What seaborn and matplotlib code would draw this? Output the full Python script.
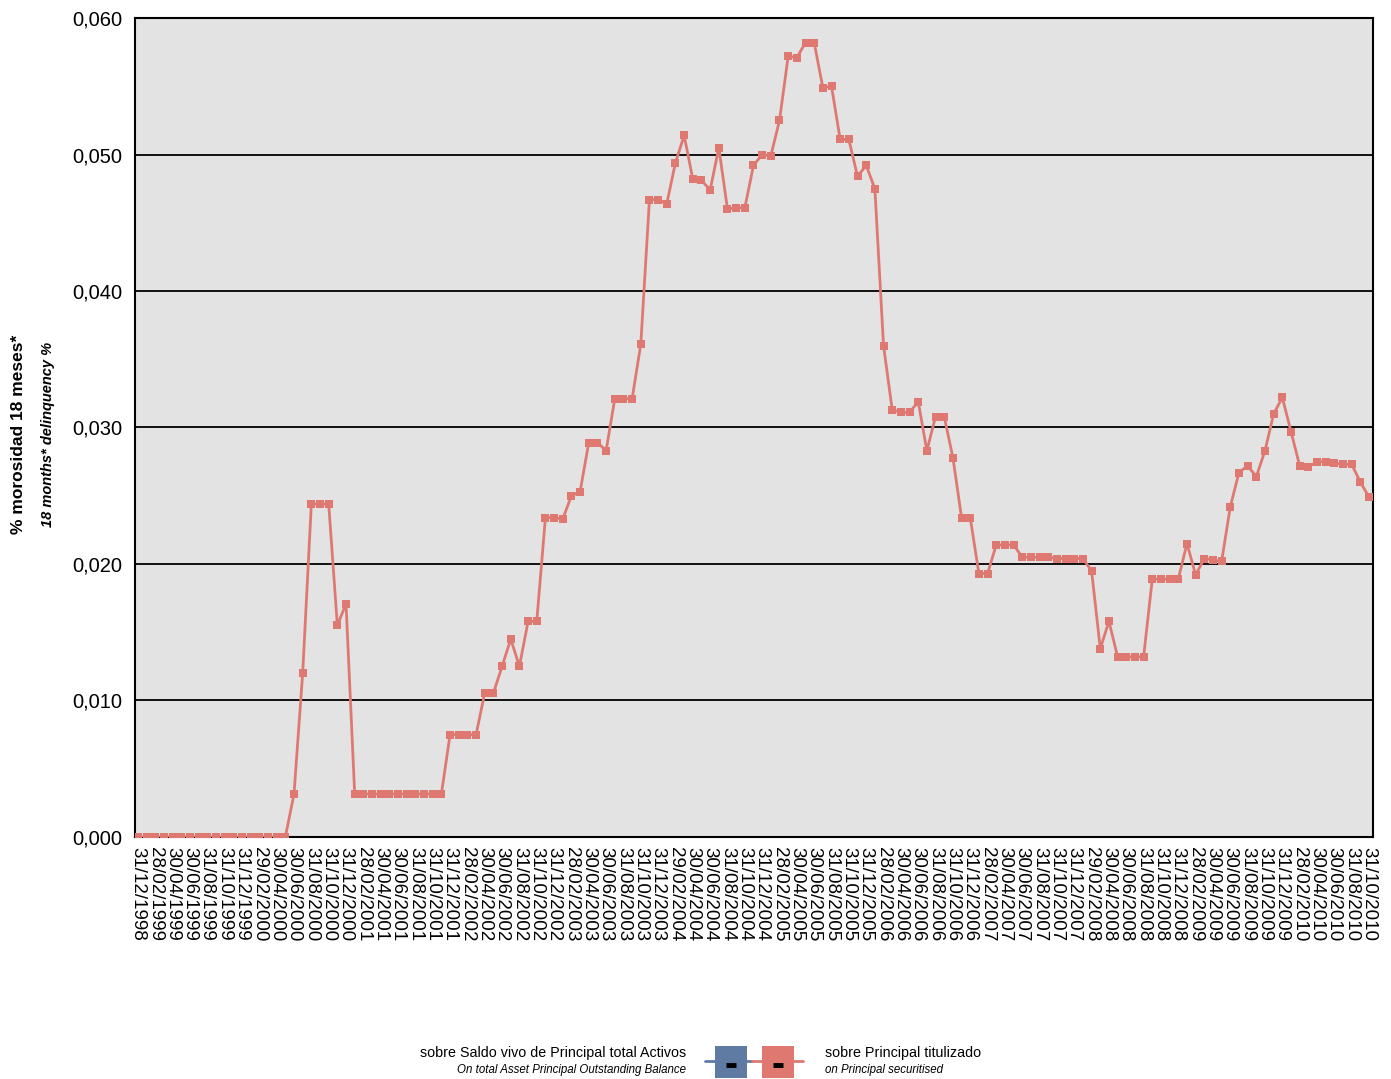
import numpy as np
import pandas as pd
import matplotlib.pyplot as plt
import matplotlib.patches as mpatches
from matplotlib.lines import Line2D
import seaborn as sns

# monthly end dates, 31/12/1998 .. 31/10/2010
dates = pd.date_range('1998-12-31', '2010-10-31', freq='ME')
date_labels = [d.strftime('%d/%m/%Y') for d in dates]

# delinquency on principal securitised
titulizado = [
    0.0, 0.0, 0.0, 0.0, 0.0, 0.0, 0.0, 0.0, 0.0, 0.0,
    0.0, 0.0, 0.0, 0.0, 0.0, 0.0, 0.0, 0.0, 0.00315, 0.0120,
    0.0244, 0.0244, 0.0244, 0.0155, 0.0171, 0.00315, 0.00315, 0.00315, 0.00315, 0.00315,
    0.00315, 0.00315, 0.00315, 0.00315, 0.00315, 0.00315, 0.0075, 0.0075, 0.0075, 0.0075,
    0.01055, 0.01055, 0.0125, 0.0145, 0.0125, 0.0158, 0.0158, 0.0234, 0.0234, 0.0233,
    0.0250, 0.0253, 0.0289, 0.0289, 0.0283, 0.0321, 0.0321, 0.0321, 0.0361, 0.0467,
    0.0467, 0.0464, 0.0494, 0.0514, 0.0482, 0.0481, 0.0474, 0.0505, 0.0460, 0.0461,
    0.0461, 0.0492, 0.0500, 0.0499, 0.0525, 0.0572, 0.0571, 0.0582, 0.0582, 0.0549,
    0.0550, 0.0511, 0.0511, 0.0484, 0.0492, 0.0475, 0.0360, 0.0313, 0.0311, 0.0311,
    0.0319, 0.0283, 0.0308, 0.0308, 0.0278, 0.0234, 0.0234, 0.0193, 0.0193, 0.0214,
    0.0214, 0.0214, 0.0205, 0.0205, 0.0205, 0.0205, 0.0204, 0.0204, 0.0204, 0.0204,
    0.0195, 0.0138, 0.0158, 0.0132, 0.0132, 0.0132, 0.0132, 0.0189, 0.0189, 0.0189,
    0.0189, 0.0215, 0.0192, 0.0204, 0.0203, 0.0202, 0.0242, 0.0267, 0.0272, 0.0264,
    0.0283, 0.0310, 0.0322, 0.0297, 0.0272, 0.0271, 0.0275, 0.0275, 0.0274, 0.0273,
    0.0273, 0.0260, 0.0249,
]

yticks = [0.0, 0.01, 0.02, 0.03, 0.04, 0.05, 0.06]
ytick_labels = ['0,000', '0,010', '0,020', '0,030', '0,040', '0,050', '0,060']

red = '#e07872'
blue = '#5f7aa3'

sns.set_style('white')
plt.rcParams['font.family'] = ['Liberation Sans', 'DejaVu Sans']
plt.rcParams['text.color'] = 'black'
plt.rcParams['xtick.color'] = 'black'
plt.rcParams['ytick.color'] = 'black'

fig = plt.figure(figsize=(13.91, 10.79), dpi=100)
ax = fig.add_axes([0.097, 0.2243, 0.89, 0.7590])

df = pd.DataFrame({'pos': np.arange(len(titulizado)), 'value': titulizado})
sns.lineplot(data=df, x='pos', y='value', ax=ax, color=red, linewidth=2,
             marker='s', markersize=6, markeredgewidth=0, zorder=3)

ax.set_facecolor('#e3e3e3')
ax.set_xlim(-0.35, len(titulizado) - 1 + 0.45)
ax.set_ylim(0, 0.06)
ax.set_yticks(yticks)
ax.set_yticklabels(ytick_labels, fontsize=14.5)
ax.yaxis.grid(True, color='black', linewidth=1.3)
ax.set_axisbelow(True)

pos = np.arange(0, len(dates), 2)
ax.set_xticks(pos)
ax.set_xticklabels(date_labels[::2], rotation=270, fontsize=13.5)
ax.tick_params(axis='x', direction='out', length=5, width=1, color='#555555',
               labelcolor='black', pad=2)
ax.tick_params(axis='y', direction='out', length=5, width=1, color='black',
               labelcolor='black', pad=4)
for s in ax.spines.values():
    s.set_color('black')
    s.set_linewidth(1.5)
ax.set_xlabel('')
ax.set_ylabel('')

fig.text(0.0135, 0.597, '% morosidad 18 meses*', rotation=90, fontsize=12.5,
         fontweight='bold', ha='center', va='center', color='black')
fig.text(0.0345, 0.597, '18 months* delinquency %', rotation=90, fontsize=10.5,
         fontweight='bold', fontstyle='italic', ha='center', va='center', color='black')

# legend
fig.text(686 / 1391, 1 - 1053 / 1079, 'sobre Saldo vivo de Principal total Activos',
         fontsize=10.3, ha='right', va='center', color='black')
fig.text(686 / 1391, 1 - 1070 / 1079, 'On total Asset Principal Outstanding Balance',
         fontsize=8.3, fontstyle='italic', ha='right', va='center', color='black')
fig.text(825 / 1391, 1 - 1053 / 1079, 'sobre Principal titulizado',
         fontsize=10.3, ha='left', va='center', color='black')
fig.text(825 / 1391, 1 - 1070 / 1079, 'on Principal securitised',
         fontsize=8.3, fontstyle='italic', ha='left', va='center', color='black')

W, H = 1391, 1079
ly = 1 - 1061 / H
fig.add_artist(Line2D([705 / W, 752 / W], [ly, ly], color=blue, linewidth=2))
fig.add_artist(Line2D([752 / W, 803 / W], [ly, ly], color=red, linewidth=2))
for x0, c in [(715, blue), (762, red)]:
    fig.add_artist(mpatches.Rectangle((x0 / W, 1 - 1078 / H), 32 / W, 32 / H,
                                      facecolor=c, edgecolor='none'))
    fig.add_artist(Line2D([(x0 + 11) / W, (x0 + 21) / W], [1 - 1065 / H, 1 - 1065 / H],
                          color='black', linewidth=3.5, solid_capstyle='butt'))

fig.savefig('out.png', dpi=100)
